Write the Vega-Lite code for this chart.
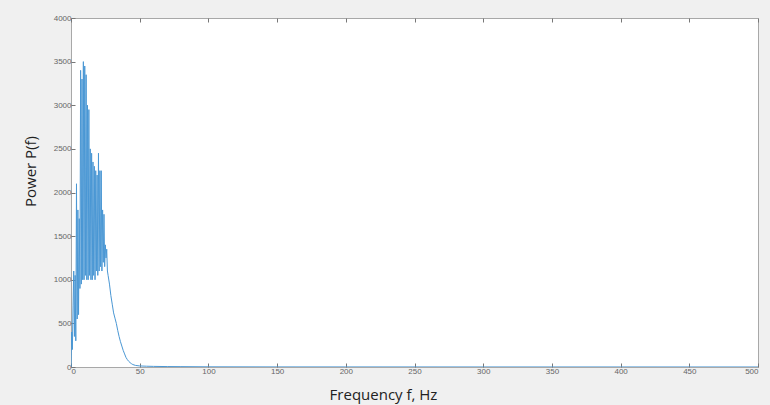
{
  "$schema": "https://vega.github.io/schema/vega-lite/v6.json",
  "width": 687,
  "height": 349,
  "autosize": {"type": "none"},
  "padding": {"left": 71, "top": 18, "right": 12, "bottom": 38},
  "background": "#f0f0f0",
  "config": {
    "view": {"fill": "white", "stroke": "#a8a8a8", "strokeWidth": 1},
    "axis": {"grid": false, "domain": false, "tickColor": "#777", "tickSize": -4, "labelColor": "#666", "labelFontSize": 8, "labelFont": "Liberation Sans", "titleFont": "Open Sans", "titleFontSize": 15, "titleFontWeight": "normal", "titleColor": "#222", "format": "d"}
  },
  "data": {"values": [
    {"f": 0, "p": 0}, {"f": 0.5, "p": 400}, {"f": 1, "p": 200}, {"f": 1.5, "p": 700},
    {"f": 2, "p": 1100}, {"f": 2.5, "p": 350}, {"f": 3, "p": 1050}, {"f": 3.5, "p": 300},
    {"f": 4, "p": 2100}, {"f": 4.5, "p": 550}, {"f": 5, "p": 1800}, {"f": 5.5, "p": 600},
    {"f": 6, "p": 1700}, {"f": 6.5, "p": 900}, {"f": 7, "p": 3400}, {"f": 7.5, "p": 950},
    {"f": 8, "p": 3300}, {"f": 8.5, "p": 1000}, {"f": 9, "p": 3500}, {"f": 9.5, "p": 1000},
    {"f": 10, "p": 3450}, {"f": 10.5, "p": 1050}, {"f": 11, "p": 3350}, {"f": 11.5, "p": 1000},
    {"f": 12, "p": 3000}, {"f": 12.5, "p": 1000}, {"f": 13, "p": 2950}, {"f": 13.5, "p": 1050},
    {"f": 14, "p": 2500}, {"f": 14.5, "p": 1000}, {"f": 15, "p": 2450}, {"f": 15.5, "p": 1000},
    {"f": 16, "p": 2350}, {"f": 16.5, "p": 1050}, {"f": 17, "p": 2300}, {"f": 17.5, "p": 1000},
    {"f": 18, "p": 2250}, {"f": 18.5, "p": 1100}, {"f": 19, "p": 2200}, {"f": 19.5, "p": 1050},
    {"f": 20, "p": 2450}, {"f": 20.5, "p": 1100}, {"f": 21, "p": 2250}, {"f": 21.5, "p": 1150},
    {"f": 22, "p": 2250}, {"f": 22.5, "p": 1100}, {"f": 23, "p": 1800}, {"f": 23.5, "p": 1200},
    {"f": 24, "p": 1750}, {"f": 24.5, "p": 1150}, {"f": 25, "p": 1400}, {"f": 25.5, "p": 1250},
    {"f": 26, "p": 1350}, {"f": 26.5, "p": 1100}, {"f": 27, "p": 1050}, {"f": 28, "p": 950},
    {"f": 29, "p": 820}, {"f": 30, "p": 720}, {"f": 31, "p": 620}, {"f": 32, "p": 560},
    {"f": 33, "p": 500}, {"f": 34, "p": 420}, {"f": 35, "p": 350}, {"f": 36, "p": 290},
    {"f": 37, "p": 240}, {"f": 38, "p": 190}, {"f": 39, "p": 150}, {"f": 40, "p": 110},
    {"f": 41, "p": 85}, {"f": 42, "p": 65}, {"f": 43, "p": 50}, {"f": 44, "p": 38},
    {"f": 45, "p": 28}, {"f": 47, "p": 18}, {"f": 50, "p": 12}, {"f": 55, "p": 9},
    {"f": 60, "p": 7}, {"f": 70, "p": 5}, {"f": 80, "p": 4}, {"f": 100, "p": 2},
    {"f": 150, "p": 1}, {"f": 200, "p": 0.8}, {"f": 300, "p": 0.5}, {"f": 400, "p": 0.4},
    {"f": 500, "p": 0.3}
  ]},
  "layer": [
    {
      "mark": {"type": "line", "color": "#4a97d4", "strokeWidth": 1, "clip": true},
      "encoding": {
        "x": {"field": "f", "type": "quantitative", "scale": {"domain": [0, 500], "nice": false},
              "axis": {"orient": "bottom", "title": "Frequency f, Hz", "values": [0,50,100,150,200,250,300,350,400,450,500], "labelPadding": 4, "titleX": 312, "titleY": 20, "titleBaseline": "top"}},
        "y": {"field": "p", "type": "quantitative", "scale": {"domain": [0, 4000], "nice": false},
              "axis": {"title": "Power P(f)", "values": [0,500,1000,1500,2000,2500,3000,3500,4000], "labelPadding": 4, "titleX": -33, "titleY": 153}}
      }
    },
    {
      "mark": {"type": "line", "opacity": 0},
      "encoding": {
        "x": {"field": "f", "type": "quantitative", "axis": {"orient": "top", "title": null, "labels": false, "values": [0,50,100,150,200,250,300,350,400,450,500]}},
        "y": {"field": "p", "type": "quantitative"}
      }
    }
  ],
  "resolve": {"axis": {"x": "independent"}}
}
